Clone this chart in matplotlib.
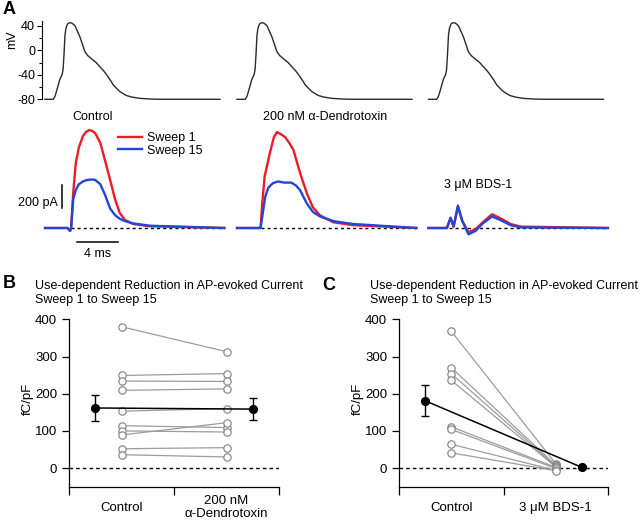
import matplotlib
matplotlib.use('Agg')
import numpy as np
import matplotlib.pyplot as plt

# ---------------- data ----------------
# action potential command waveform (ms, mV)
ap_t = [0, 0.81, 0.95, 1.07, 1.27, 1.46, 1.66, 1.76, 1.85, 1.95, 2.03, 2.12, 2.2, 2.28, 2.44, 2.6,
        2.75, 2.93, 3.15, 3.41, 3.65, 3.90, 4.2, 4.56, 5.0, 5.37, 5.7, 6.02, 6.35, 6.66, 7.0, 7.32,
        7.65, 7.97, 8.5, 9.27, 10.2, 11.2, 17.07]
ap_mv = [-80, -80, -76, -70, -58, -47, -40, -32, -8, 25, 35, 40, 43, 44.5, 45.3, 44.8,
         43, 40, 32, 22, 10, -2.5, -9, -14, -20, -27, -33, -40, -48, -56.5, -62.5, -67.5,
         -71, -74, -76.5, -78.5, -79.5, -80, -80]

# currents (ms, pA)
ctrl_t = [0, 2.2, 2.45, 2.55, 2.75, 3.0, 3.3, 3.7, 4.0, 4.3, 4.6, 4.9, 5.4, 5.85, 6.35, 6.85,
          7.3, 7.8, 8.6, 10.2, 17.5]
ctrl_red = [0, 0, -25, 0, 300, 560, 700, 800, 835, 852, 845, 825, 740, 590, 420, 245,
            130, 70, 35, 15, 0]
ctrl_blue = [0, 0, -25, 0, 250, 330, 380, 405, 415, 420, 422, 418, 380, 290, 170, 110,
             80, 60, 40, 20, 0]

dtx_t = [0, 2.3, 2.45, 2.7, 3.2, 3.6, 3.9, 4.3, 4.7, 5.1, 5.5, 6.15, 6.8, 7.4, 8.1, 9.4, 11.3, 17.5]
dtx_red = [0, 0, 200, 450, 650, 790, 835, 815, 790, 740, 680, 480, 305, 180, 110, 50, 25, 0]
dtx_blue_t = [0, 2.3, 2.5, 2.75, 3.05, 3.5, 4.0, 4.6, 5.3, 5.75, 6.15, 6.8, 7.4, 8.1, 9.4, 11.3, 17.5]
dtx_blue = [0, 0, 120, 270, 350, 390, 405, 395, 395, 370, 330, 215, 140, 100, 60, 35, 0]

bds_t = [0, 1.8, 2.15, 2.45, 2.87, 3.3, 3.9, 4.6, 5.3, 6.2, 7.0, 8.0, 9.0, 17.5]
bds_red = [0, 0, 85, 10, 185, 60, -35, -10, 50, 120, 85, 35, 12, 0]
bds_blue = [0, 0, 90, 15, 195, 60, -55, -25, 40, 100, 70, 25, 5, 0]

# summary data (fC/pF)
ctrl_B = [380, 249, 234, 209, 153, 114, 100, 89, 52, 36]
dtx_B = [313, 254, 233, 213, 160, 109, 97, 122, 55, 30]
ctrl_C = [368, 270, 254, 236, 111, 104, 64, 41]
bds_C = [12, 8, 5, 3, 2, -1, -6, -7]

cond_B = ['Control', '200 nM\n\u03b1-Dendrotoxin']
cond_C = ['Control', '3 \u03bcM BDS-1']
titles_A = ['Control', '200 nM \u03b1-Dendrotoxin', '3 \u03bcM BDS-1']

# ---------------- layout ----------------
W, H = 640, 523
plt.rcParams['font.family'] = ['Liberation Sans', 'DejaVu Sans']
plt.rcParams['axes.unicode_minus'] = False
FS = 9
fig = plt.figure(figsize=(6.4, 5.23), dpi=100)

PX_MS = 10.25
MV0_Y, PX_MV = 50.4, 0.611
BASE_Y, PA_PX = 228, 8.7


def box(x0, y0, x1, y1):
    return fig.add_axes([x0 / W, 1 - y1 / H, (x1 - x0) / W, (y1 - y0) / H])


def ftext(x, y, s, **kw):
    kw.setdefault('fontsize', FS)
    kw.setdefault('ha', 'center')
    kw.setdefault('va', 'center')
    return fig.text(x / W, 1 - y / H, s, **kw)


RED = '#ec1c24'
BLUE = '#2146d8'
xs = [45, 237, 428.5]
cur = [(ctrl_t, ctrl_red, ctrl_t, ctrl_blue, 2.5),
       (dtx_t, dtx_red, dtx_blue_t, dtx_blue, 2.3),
       (bds_t, bds_red, bds_t, bds_blue, 2.0)]

for k, x0 in enumerate(xs):
    # AP trace
    ax = box(x0 - 6, 15, x0 + 186, 105)
    ax.set_xlim(-6 / PX_MS, 186 / PX_MS)
    ax.set_ylim((MV0_Y - 105) / PX_MV, (MV0_Y - 15) / PX_MV)
    ax.plot(ap_t, ap_mv, color='#2a2a2a', lw=1.0)
    for s in ['top', 'right', 'bottom']:
        ax.spines[s].set_visible(False)
    ax.set_xticks([])
    if k == 0:
        ax.spines['left'].set_position(('data', -3 / PX_MS))
        ax.spines['left'].set_bounds(-80, 48)
        ax.spines['left'].set_linewidth(0.8)
        ax.set_yticks([-80, -40, 0, 40])
        ax.set_yticks([-60, -20, 20], minor=True)
        ax.tick_params(axis='y', which='major', length=3.5, width=0.8, pad=1.5, labelsize=FS)
        ax.tick_params(axis='y', which='minor', length=2, width=0.8)
    else:
        ax.spines['left'].set_visible(False)
        ax.set_yticks([])
    ax.patch.set_alpha(0)

    # current traces
    axc = box(x0 - 30, 118, x0 + 186, 262)
    axc.set_xlim(-30 / PX_MS, 186 / PX_MS)
    axc.set_ylim((BASE_Y - 262) * PA_PX, (BASE_Y - 118) * PA_PX)
    axc.axis('off')
    axc.patch.set_alpha(0)
    rt, ri, bt, bi, on = cur[k]
    axc.plot([on, 17.5], [0, 0], color='black', lw=1.0, ls=(0, (2.2, 2.2)), zorder=1)
    axc.plot(rt, ri, color=RED, lw=1.7, zorder=2, label='Sweep 1')
    axc.plot(bt, bi, color=BLUE, lw=1.7, zorder=3, label='Sweep 15')
    if k == 0:
        axc.plot([1.66, 1.66], [170, 370], color='black', lw=1.1)
        axc.plot([3.12, 7.12], [-122, -122], color='black', lw=1.1)
        axc.text(1.25, 215, '200 pA', ha='right', va='center', fontsize=FS)
        axc.text(5.1, -226, '4 ms', ha='center', va='center', fontsize=FS)
        axc.legend(loc='upper left', bbox_to_anchor=(118 / W, 1 - 132 / H),
                   bbox_transform=fig.transFigure, frameon=False, fontsize=FS,
                   handlelength=1.9, handletextpad=0.45, borderpad=0, borderaxespad=0,
                   labelspacing=0.05)

ftext(93, 116.7, titles_A[0])
ftext(325, 116.7, titles_A[1])
ftext(478, 185, titles_A[2])
ftext(12, 40, 'mV', rotation=90)
ftext(9, 9, 'A', fontsize=13, fontweight='bold')
ftext(9, 284, 'B', fontsize=13, fontweight='bold')
ftext(329, 285.5, 'C', fontsize=13, fontweight='bold')

GRAY_L = '#9c9c9c'
GRAY_M = '#8a8a8a'


def summary(x0, x1, c, d, labels, title_x):
    ax = box(x0, 319.3, x1, 486.7)
    ax.set_xlim(0, 2)
    ax.set_ylim(-50, 400)
    for s in ['top', 'right']:
        ax.spines[s].set_visible(False)
    for s in ['left', 'bottom']:
        ax.spines[s].set_linewidth(0.9)
    ax.axhline(0, color='black', lw=1.0, ls=(0, (2.6, 2.2)), zorder=1)
    for a, b in zip(c, d):
        ax.plot([0.5, 1.5], [a, b], color=GRAY_L, lw=0.9, zorder=2)
    ax.plot([0.5] * len(c), c, 'o', mfc='white', mec=GRAY_M, ms=5.3, mew=0.9, zorder=3, clip_on=False)
    ax.plot([1.5] * len(d), d, 'o', mfc='white', mec=GRAY_M, ms=5.3, mew=0.9, zorder=3, clip_on=False)
    ca, da = np.array(c, float), np.array(d, float)
    means = [ca.mean(), da.mean()]
    sems = [ca.std(ddof=1) / np.sqrt(len(ca)), da.std(ddof=1) / np.sqrt(len(da))]
    ax.errorbar([0.25, 1.75], means, yerr=sems, fmt='o-', color='black', ms=5.6, lw=1.1,
                elinewidth=1.0, capsize=3.2, capthick=1.0, zorder=4, clip_on=False)
    ax.set_yticks([0, 100, 200, 300, 400])
    ax.tick_params(axis='y', length=5, width=0.9, pad=3.5, labelsize=FS + 0.5)
    ax.set_xticks([0, 1, 2])
    ax.set_xticklabels(['', '', ''])
    ax.tick_params(axis='x', which='major', length=6, width=0.9)
    ax.set_xticks([0.5, 1.5], minor=True)
    ax.set_xticklabels(labels, minor=True, fontsize=FS + 0.5)
    ax.tick_params(axis='x', which='minor', length=0, pad=15)
    for lbl in ax.get_xticklabels(minor=True):
        lbl.set_va('center')
    ftext(x0 - 41, 399, 'fC/pF', rotation=90, fontsize=FS + 0.5)
    ftext(title_x, 293.4, 'Use-dependent Reduction in AP-evoked Current\nSweep 1 to Sweep 15',
          ha='left', linespacing=1.2)
    return ax


summary(69, 279, ctrl_B, dtx_B, cond_B, 35)
summary(399, 608, ctrl_C, bds_C, cond_C, 370)

fig.savefig('out.png', dpi=100)
